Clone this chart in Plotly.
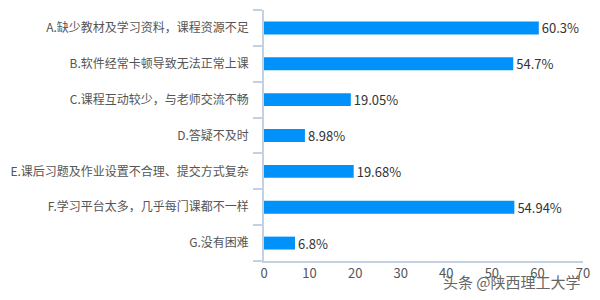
import plotly.graph_objects as go

categories = [
    "A.缺少教材及学习资料，课程资源不足",
    "B.软件经常卡顿导致无法正常上课",
    "C.课程互动较少，与老师交流不畅",
    "D.答疑不及时",
    "E.课后习题及作业设置不合理、提交方式复杂",
    "F.学习平台太多，几乎每门课都不一样",
    "G.没有困难",
]
values = [60.3, 54.7, 19.05, 8.98, 19.68, 54.94, 6.8]
value_labels = ["60.3%", "54.7%", "19.05%", "8.98%", "19.68%", "54.94%", "6.8%"]
x_ticks = [0, 10, 20, 30, 40, 50, 60, 70]

font_family = "Noto Sans CJK SC, Microsoft YaHei, sans-serif"

fig = go.Figure(
    go.Bar(
        x=values,
        y=categories,
        orientation="h",
        marker=dict(color="#0092FA", line=dict(width=0)),
        width=0.36,
        text=value_labels,
        textposition="outside",
        constraintext="none",
        cliponaxis=False,
        textfont=dict(size=13, color="#333333", family=font_family),
    )
)

fig.update_layout(
    width=600,
    height=300,
    margin=dict(l=262, r=10, t=10, b=39),
    paper_bgcolor="white",
    plot_bgcolor="white",
    showlegend=False,
    font=dict(family=font_family),
    xaxis=dict(
        range=[0, 70],
        tickvals=x_ticks,
        showgrid=False,
        zeroline=False,
        showline=True,
        linecolor="#c3d1e2",
        linewidth=1.5,
        ticks="",
        tickfont=dict(size=13, color="#555555"),
        fixedrange=True,
    ),
    yaxis=dict(
        categoryorder="array",
        categoryarray=categories[::-1],
        showgrid=False,
        zeroline=False,
        showline=True,
        linecolor="#c3d1e2",
        linewidth=1.5,
        ticks="outside",
        tickson="boundaries",
        ticklen=9,
        tickcolor="#c3d1e2",
        tickwidth=1.5,
        ticklabelstandoff=11,
        tickfont=dict(size=12, color="#555555"),
        fixedrange=True,
    ),
    bargap=0.64,
)

fig.add_annotation(
    text="头条 @陕西理工大学",
    xref="paper", yref="paper",
    x=1.0, y=-0.08,
    xanchor="right", yanchor="middle",
    showarrow=False,
    font=dict(size=15, color="#666666", family=font_family),
)

fig.write_html("out.html")
